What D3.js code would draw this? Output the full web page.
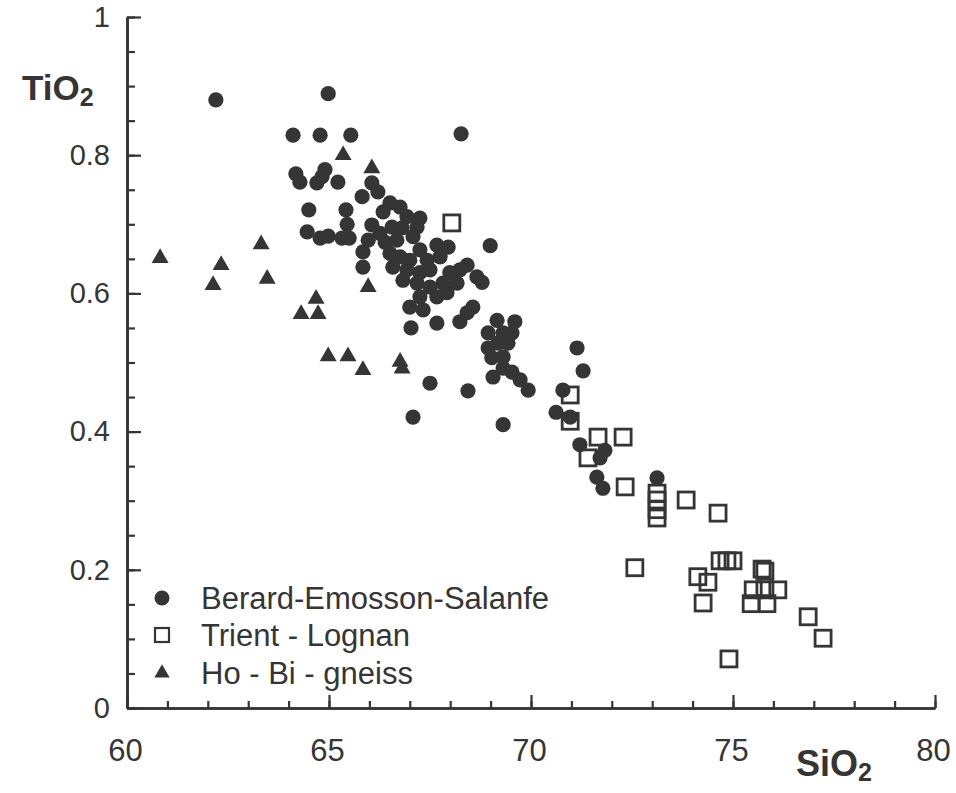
<!DOCTYPE html>
<html>
<head>
<meta charset="utf-8">
<script src="https://cdn.jsdelivr.net/npm/d3@7"></script>
<style>
  html, body { margin: 0; padding: 0; background: #fff; }
  svg { display: block; font-family: "Liberation Sans", Arial, Helvetica, sans-serif; }
</style>
</head>
<body>
<svg id="chart" width="956" height="793"></svg>
<script>
// ---- data (SiO2, TiO2) ----
const berardSiO2 = [62.20,64.98,68.27,64.11,64.78,65.54,64.18,64.28,64.70,64.90,64.83,65.22,65.82,66.06,66.21,
  64.50,65.42,65.45,64.46,64.78,64.98,65.32,65.50,66.51,66.34,66.76,66.93,67.25,66.06,66.26,66.56,66.81,67.18,
  65.97,66.39,66.68,67.08,67.25,67.67,67.95,65.84,66.51,66.76,67.00,67.43,67.75,66.58,66.93,67.25,67.50,65.84,
  66.83,67.18,67.50,67.82,67.99,68.24,68.42,68.66,68.17,67.25,67.67,67.92,67.00,67.33,67.67,68.24,68.42,68.56,
  67.03,68.99,68.79,69.16,69.60,68.94,69.31,69.53,68.94,69.18,69.43,69.03,69.31,69.06,69.31,69.53,69.73,69.93,
  68.44,69.31,67.50,67.08,71.14,71.29,70.79,70.62,70.97,71.21,71.83,71.71,71.63,71.78,73.12];
const berardTiO2 = [0.880,0.889,0.831,0.829,0.829,0.829,0.773,0.761,0.760,0.779,0.769,0.761,0.740,0.760,0.747,
  0.721,0.721,0.700,0.689,0.680,0.683,0.680,0.680,0.731,0.718,0.725,0.711,0.709,0.699,0.687,0.696,0.695,0.696,
  0.677,0.674,0.677,0.682,0.663,0.670,0.667,0.660,0.658,0.653,0.648,0.648,0.653,0.638,0.634,0.630,0.634,0.638,
  0.619,0.615,0.609,0.615,0.630,0.634,0.641,0.624,0.615,0.595,0.595,0.601,0.580,0.576,0.557,0.559,0.572,0.580,
  0.550,0.669,0.616,0.561,0.559,0.543,0.543,0.543,0.521,0.528,0.528,0.507,0.508,0.479,0.492,0.486,0.475,0.460,
  0.459,0.410,0.470,0.421,0.521,0.488,0.460,0.428,0.421,0.381,0.373,0.362,0.334,0.318,0.333];

const trientSiO2 = [68.04,70.97,70.97,71.66,72.28,71.41,72.33,73.12,73.12,73.12,73.12,73.84,74.63,72.57,74.68,
  74.85,75.00,74.13,74.38,74.26,75.72,75.79,75.50,75.79,76.11,75.45,75.84,76.86,77.23,74.90];
const trientTiO2 = [0.702,0.453,0.415,0.392,0.392,0.362,0.320,0.311,0.301,0.287,0.275,0.301,0.282,0.203,0.213,
  0.213,0.213,0.190,0.182,0.152,0.201,0.198,0.171,0.171,0.171,0.151,0.151,0.132,0.101,0.071];

const gneissSiO2 = [60.82,62.33,62.13,63.32,63.47,64.68,64.31,64.73,64.98,65.47,65.84,66.76,66.81,65.97,65.35,66.06];
const gneissTiO2 = [0.651,0.641,0.612,0.671,0.621,0.592,0.570,0.570,0.509,0.509,0.489,0.501,0.491,0.609,0.800,0.781];

const seriesNames = ["Berard-Emosson-Salanfe", "Trient - Lognan", "Ho - Bi - gneiss"];
const xTickLabels = [60, 65, 70, 75, 80];
const yTickLabels = [0, 0.2, 0.4, 0.6, 0.8, 1];

// ---- drawing ----
const ink = "#353535";
const svg = d3.select("#chart");
const x = d3.scaleLinear().domain([60, 80]).range([127, 935]);
const y = d3.scaleLinear().domain([0, 1]).range([708, 17]);

function styleAxis(fs) {
  return g => {
    g.selectAll("path.domain").attr("stroke", ink).attr("stroke-width", 2.6);
    g.selectAll(".tick line").attr("stroke", ink).attr("stroke-width", 2.2);
    g.selectAll(".tick text").attr("fill", ink).attr("font-size", fs)
      .attr("font-family", '"Liberation Sans", Arial, Helvetica, sans-serif');
  };
}

// minor ticks
svg.append("g").attr("transform", "translate(0,708)")
  .call(d3.axisBottom(x).tickValues(d3.range(60, 81, 1)).tickSize(-7).tickSizeOuter(0).tickFormat(""))
  .call(styleAxis(30));
svg.append("g").attr("transform", "translate(127,0)")
  .call(d3.axisLeft(y).tickValues(d3.range(0, 1.001, 0.05)).tickSize(-8).tickSizeOuter(0).tickFormat(""))
  .call(styleAxis(29));
// major ticks + labels
svg.append("g").attr("transform", "translate(0,708)")
  .call(d3.axisBottom(x).tickValues(xTickLabels).tickSize(-13).tickSizeOuter(0).tickPadding(31).tickFormat(d3.format("d")))
  .call(styleAxis(31))
  .call(g => g.selectAll(".tick text").attr("dx", -2));
svg.append("g").attr("transform", "translate(127,0)")
  .call(d3.axisLeft(y).tickValues(yTickLabels).tickSize(-14).tickSizeOuter(0).tickPadding(17)
    .tickFormat(d => d === 0 ? "0" : d === 1 ? "1" : d3.format(".1f")(d)))
  .call(styleAxis(29));

// axis titles
const tT = svg.append("text").attr("x", 22).attr("y", 100).attr("fill", ink)
  .attr("font-size", 35).attr("font-weight", "bold");
tT.append("tspan").text("TiO");
tT.append("tspan").attr("font-size", 25).attr("dy", 6).text("2");
const sT = svg.append("text").attr("x", 796).attr("y", 776).attr("fill", ink)
  .attr("font-size", 36).attr("font-weight", "bold");
sT.append("tspan").text("SiO");
sT.append("tspan").attr("font-size", 25).attr("dy", 5).text("2");

// marks
const circles = d3.zip(berardSiO2, berardTiO2);
const squares = d3.zip(trientSiO2, trientTiO2);
const tris = d3.zip(gneissSiO2, gneissTiO2);
const triSym = d3.symbol().type(d3.symbolTriangle).size(125);

svg.append("g").selectAll("circle").data(circles).join("circle")
  .attr("cx", d => x(d[0])).attr("cy", d => y(d[1])).attr("r", 7.6).attr("fill", ink);
svg.append("g").selectAll("path").data(tris).join("path")
  .attr("d", triSym).attr("transform", d => `translate(${x(d[0])},${y(d[1])})`).attr("fill", ink);
svg.append("g").selectAll("rect").data(squares).join("rect")
  .attr("x", d => x(d[0]) - 8).attr("y", d => y(d[1]) - 8).attr("width", 16).attr("height", 16)
  .attr("fill", "none").attr("stroke", ink).attr("stroke-width", 2.8);

// legend
const leg = svg.append("g");
const rowsY = [598, 635, 673];
leg.append("circle").attr("cx", 162).attr("cy", rowsY[0]).attr("r", 7.5).attr("fill", ink);
leg.append("rect").attr("x", 155).attr("y", rowsY[1] - 7).attr("width", 14).attr("height", 14)
  .attr("fill", "none").attr("stroke", ink).attr("stroke-width", 2.2);
leg.append("path").attr("d", d3.symbol().type(d3.symbolTriangle).size(100))
  .attr("transform", `translate(162,${rowsY[2]})`).attr("fill", ink);
seriesNames.forEach((n, i) => {
  leg.append("text").attr("x", 201).attr("y", rowsY[i]).attr("dy", "0.36em")
    .attr("font-size", 31).attr("fill", ink).text(n);
});
</script>
</body>
</html>
